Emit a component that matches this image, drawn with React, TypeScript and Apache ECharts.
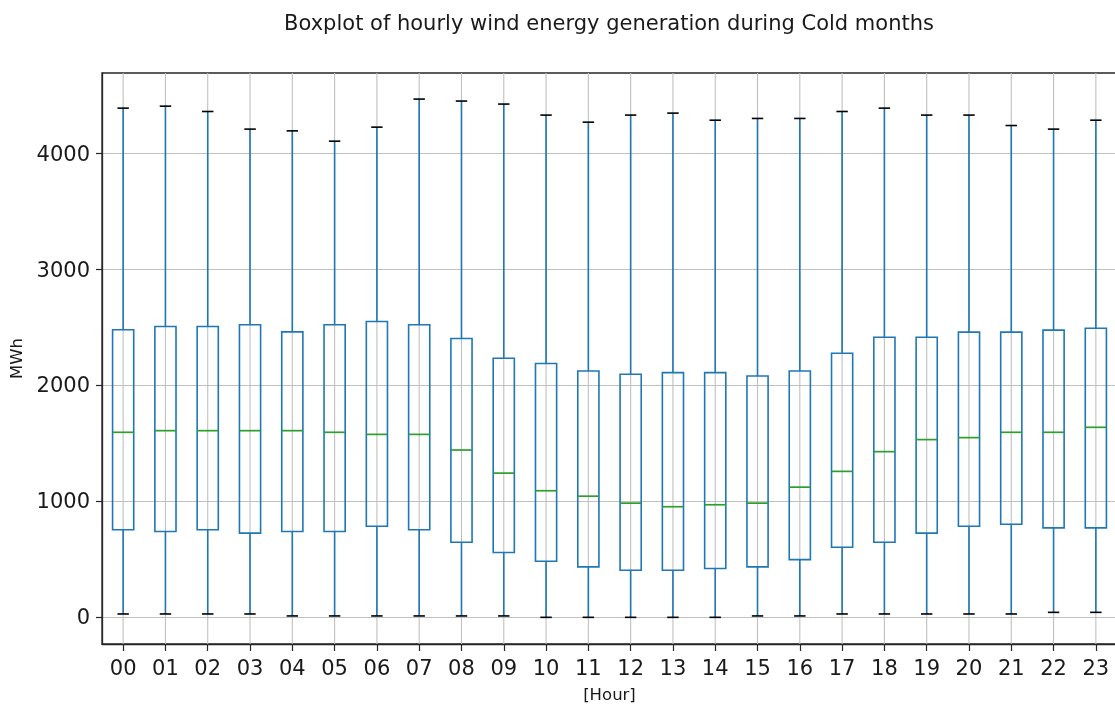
import React, { useEffect, useRef } from 'react';
import * as echarts from 'echarts';

const titleText = 'Boxplot of hourly wind energy generation during Cold months';
const hours = ['00', '01', '02', '03', '04', '05', '06', '07', '08', '09', '10', '11', '12', '13', '14', '15', '16', '17', '18', '19', '20', '21', '22', '23'];
const whiskerHigh = [4392, 4409, 4363, 4211, 4196, 4107, 4228, 4470, 4453, 4427, 4332, 4271, 4332, 4349, 4288, 4303, 4303, 4363, 4392, 4332, 4332, 4242, 4211, 4288];
const q3 = [2480, 2509, 2509, 2523, 2462, 2523, 2552, 2523, 2405, 2235, 2189, 2125, 2097, 2111, 2111, 2082, 2125, 2278, 2416, 2416, 2460, 2460, 2477, 2494];
const median = [1596, 1610, 1610, 1610, 1610, 1596, 1578, 1578, 1443, 1244, 1092, 1045, 985, 954, 971, 985, 1123, 1259, 1429, 1533, 1550, 1596, 1596, 1639];
const q1 = [755, 740, 755, 726, 740, 740, 786, 755, 648, 559, 484, 435, 406, 406, 421, 435, 498, 605, 648, 726, 786, 803, 772, 772];
const whiskerLow = [29, 29, 29, 29, 12, 12, 12, 12, 12, 12, 0, 0, 0, 0, 0, 12, 12, 29, 29, 29, 29, 29, 43, 43];
const yTicks = [0, 1000, 2000, 3000, 4000];

const BLUE = '#1f77b4';
const GREEN = '#2ca02c';
const GRID = '#c0c0c0';
const TEXT = '#1a1a1a';
const FONT = 'DejaVu Sans';

function renderItem(params: any, api: any) {
  const idx = api.value(0);
  const band = api.size([1, 0])[0];
  const half = band * 0.25;
  const capHalf = band * 0.135;
  const pLow = api.coord([idx, api.value(1)]);
  const pQ1 = api.coord([idx, api.value(2)]);
  const pMed = api.coord([idx, api.value(3)]);
  const pQ3 = api.coord([idx, api.value(4)]);
  const pHigh = api.coord([idx, api.value(5)]);
  const cs = params.coordSys;
  const x = pLow[0];
  const lw = 1.6;
  return {
    type: 'group',
    children: [
      { type: 'line', shape: { x1: x, y1: cs.y, x2: x, y2: cs.y + cs.height }, style: { stroke: GRID, lineWidth: 1.1 } },
      { type: 'line', shape: { x1: x, y1: pQ3[1], x2: x, y2: pHigh[1] }, style: { stroke: BLUE, lineWidth: lw } },
      { type: 'line', shape: { x1: x, y1: pQ1[1], x2: x, y2: pLow[1] }, style: { stroke: BLUE, lineWidth: lw } },
      { type: 'rect', shape: { x: x - half, y: pQ3[1], width: 2 * half, height: pQ1[1] - pQ3[1] }, style: { fill: 'none', stroke: BLUE, lineWidth: lw } },
      { type: 'line', shape: { x1: x - half, y1: pMed[1], x2: x + half, y2: pMed[1] }, style: { stroke: GREEN, lineWidth: 1.7 } },
      { type: 'line', shape: { x1: x - capHalf, y1: pHigh[1], x2: x + capHalf, y2: pHigh[1] }, style: { stroke: '#000', lineWidth: lw } },
      { type: 'line', shape: { x1: x - capHalf, y1: pLow[1], x2: x + capHalf, y2: pLow[1] }, style: { stroke: '#000', lineWidth: lw } },
    ],
  };
}

export default function App() {
  const ref = useRef<HTMLDivElement>(null);
  useEffect(() => {
    const chart = echarts.init(ref.current!, null, { renderer: 'svg' });
    const data = hours.map((h, i) => [i, whiskerLow[i], q1[i], median[i], q3[i], whiskerHigh[i]]);
    chart.setOption({
      animation: false,
      textStyle: { fontFamily: FONT },
      grid: {
        left: 102, top: 73, width: 1015, height: 571,
        show: true, borderColor: '#262626', borderWidth: 1.3, backgroundColor: 'transparent',
        containLabel: false, outerBoundsMode: 'none',
      },
      graphic: [
        {
          type: 'text', x: 609, y: 12,
          style: { text: titleText, font: `21px "${FONT}"`, fill: TEXT, textAlign: 'center', textVerticalAlign: 'top', align: 'center', verticalAlign: 'top' },
        },
      ],
      xAxis: {
        type: 'category', data: hours, boundaryGap: true,
        name: '[Hour]', nameLocation: 'middle', nameGap: 42,
        nameTextStyle: { fontSize: 16.5, color: TEXT, fontFamily: FONT },
        axisLine: { show: true, onZero: false, lineStyle: { color: '#262626', width: 1.3 } },
        axisTick: { show: true, alignWithLabel: true, length: 7, lineStyle: { color: '#262626', width: 1.2 } },
        axisLabel: { fontSize: 21, color: TEXT, margin: 13, interval: 0, fontFamily: FONT },
        splitLine: { show: false },
      },
      yAxis: {
        type: 'value', min: -230, max: 4695,
        name: 'MWh', nameLocation: 'middle', nameGap: 77, nameRotate: 90,
        nameTextStyle: { fontSize: 16.5, color: TEXT, fontFamily: FONT },
        axisLine: { show: true, onZero: false, lineStyle: { color: '#262626', width: 1.3 } },
        axisTick: { show: true, length: 6, customValues: yTicks, lineStyle: { color: '#262626', width: 1.2 } },
        axisLabel: {
          fontSize: 21, color: TEXT, margin: 12, customValues: yTicks, fontFamily: FONT,
          formatter: (v: number) => String(v),
        },
        splitLine: { show: true, lineStyle: { color: GRID, width: 1.1 } },
      },
      series: [
        {
          type: 'custom', renderItem, data,
          encode: { x: 0, y: [1, 2, 3, 4, 5] },
          z: 2,
        },
      ],
    });
    return () => chart.dispose();
  }, []);
  return <div ref={ref} style={{ position: 'fixed', left: 0, top: 0, width: 1115, height: 709 }} />;
}
